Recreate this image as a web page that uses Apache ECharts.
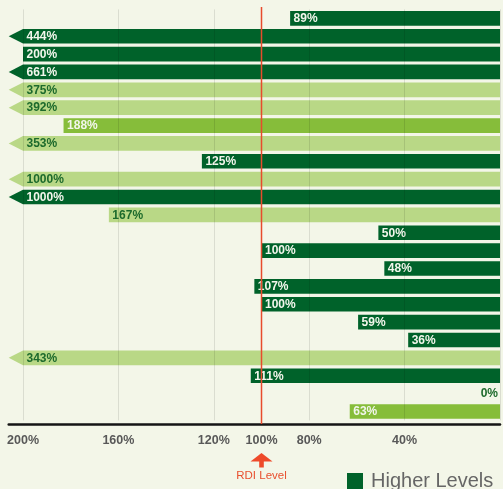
<!DOCTYPE html>
<html>
<head>
<meta charset="utf-8">
<script src="https://cdn.jsdelivr.net/npm/echarts@6/dist/echarts.min.js"></script>
<style>
  html, body { margin: 0; padding: 0; background: #f3f6e8; }
  #chart { width: 503px; height: 489px; }
</style>
</head>
<body>
<div id="chart"></div>
<script>
// printed percentage of RDI, top row first
const percentLabels = [89, 444, 200, 661, 375, 392, 188, 353, 125, 1000, 1000, 167, 50, 100, 48, 107, 100, 59, 36, 343, 111, 0, 63];
// bar length as drawn on the scale (anything above 200% gets the arrow)
const barLengths = [88, 444, 200, 661, 375, 392, 183, 353, 125, 1000, 1000, 164, 51, 100, 48.5, 103, 100, 59.5, 38.5, 343, 104.5, 0, 63];
const levels = ['high', 'high', 'high', 'high', 'low', 'low', 'mid', 'low', 'high', 'low', 'high', 'low',
  'high', 'high', 'high', 'high', 'high', 'high', 'high', 'low', 'high', 'none', 'mid'];
const tickLabels = [200, 160, 120, 100, 80, 40];
const gridLines = [200, 160, 120, 80, 40, 0];
const rdiLevel = 100;
const axisCap = 200;
const axisMax = 206;

const colors = { high: '#00622a', mid: '#86bd3a', low: '#b9d886', none: 'transparent' };
const fontFamily = '"Liberation Sans", Arial, sans-serif';

// one colour per split line, in tick order (0, 20, ... 200, max)
const splitColors = [];
for (let v = 0; v <= axisCap; v += 20) {
  splitColors.push(gridLines.includes(v) ? 'rgba(0,0,0,0.1)' : 'rgba(0,0,0,0)');
}
splitColors.push('rgba(0,0,0,0)');

function renderBar(params, api) {
  const i = params.dataIndex;
  const len = api.value(0);
  const lvl = levels[i];
  const base = api.coord([0, i]);
  const yc = base[1];
  const xRight = base[0];
  const h = api.size([0, 1])[1] * 0.82;
  const xLeft = api.coord([Math.min(len, axisCap), i])[0];
  const children = [];
  if (len > 0) {
    const pts = [[xRight, yc - h / 2], [xLeft, yc - h / 2]];
    if (len > axisCap) pts.push([api.coord([axisMax, i])[0], yc]);
    pts.push([xLeft, yc + h / 2], [xRight, yc + h / 2]);
    children.push({ type: 'polygon', shape: { points: pts }, style: { fill: colors[lvl] } });
  }
  const onDark = lvl === 'high' || lvl === 'mid';
  children.push({
    type: 'text',
    style: {
      text: percentLabels[i] + '%',
      x: len > 0 ? xLeft + 3.5 : xRight - 2,
      y: yc + 0.5,
      align: len > 0 ? 'left' : 'right',
      verticalAlign: 'middle',
      fill: onDark ? '#f2f6ec' : '#1d6a2c',
      font: 'bold 12px ' + fontFamily
    }
  });
  return { type: 'group', children: children };
}

const chart = echarts.init(document.getElementById('chart'));
chart.setOption({
  backgroundColor: '#f3f6e8',
  animation: false,
  grid: { left: 8.7, right: 3, top: 9.4, bottom: 68.6 },
  legend: {
    data: ['Higher Levels'],
    left: 347,
    top: 471,
    padding: 0,
    icon: 'rect',
    itemWidth: 16,
    itemHeight: 16,
    textStyle: { fontSize: 20, color: '#666', fontFamily: fontFamily, padding: [0, 0, 0, 3] }
  },
  xAxis: {
    type: 'value',
    inverse: true,
    position: 'bottom',
    min: 0,
    max: axisMax,
    interval: 20,
    offset: 4,
    z: 3,
    axisLine: { show: true, onZero: false, lineStyle: { color: '#151515', width: 2.5 } },
    axisTick: { show: false },
    axisLabel: {
      margin: 10,
      color: '#585858',
      fontWeight: 'bold',
      fontSize: 12.5,
      fontFamily: fontFamily,
      formatter: function (v) { return tickLabels.includes(v) ? v + '%' : ''; }
    },
    splitLine: { show: true, lineStyle: { color: splitColors, width: 1 } }
  },
  yAxis: {
    type: 'category',
    inverse: true,
    data: percentLabels.map(function (p, i) { return i; }),
    axisLine: { show: false },
    axisTick: { show: false },
    axisLabel: { show: false },
    splitLine: { show: false }
  },
  series: [{
    name: 'Higher Levels',
    type: 'custom',
    itemStyle: { color: colors.high },
    encode: { x: 0, y: 1 },
    data: barLengths.map(function (v, i) { return [v, i]; }),
    renderItem: renderBar
  }]
});

// RDI marker: red rule through the plot, arrow and caption under the axis
const rx = chart.convertToPixel({ xAxisIndex: 0 }, rdiLevel);
chart.setOption({
  graphic: [
    { type: 'line', z: 100, shape: { x1: rx, y1: 7, x2: rx, y2: 424 }, style: { stroke: '#e84b2c', lineWidth: 1.5 } },
    { type: 'polygon', z: 100, shape: { points: [[rx, 453], [rx + 11, 461.5], [rx - 11, 461.5]] }, style: { fill: '#ee4a2a' } },
    { type: 'rect', z: 100, shape: { x: rx - 2.3, y: 461, width: 4.6, height: 6.5 }, style: { fill: '#ee4a2a' } },
    { type: 'text', z: 100, style: { text: 'RDI Level', x: rx, y: 476, align: 'center', verticalAlign: 'middle', fill: '#e8502f', font: '11.5px ' + fontFamily } }
  ]
});
</script>
</body>
</html>
